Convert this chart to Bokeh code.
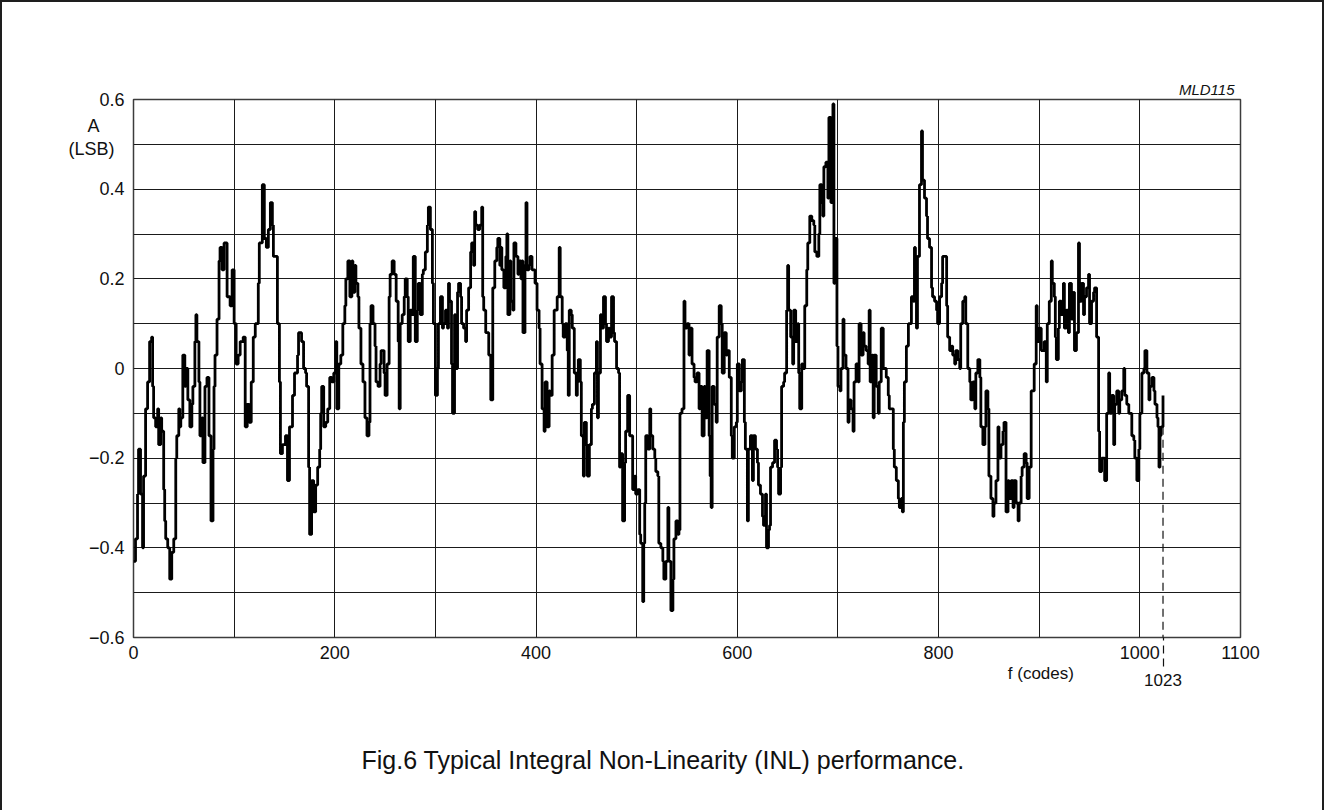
from bokeh.plotting import figure
from bokeh.models import Range1d, FixedTicker, CustomJSTickFormatter, LinearAxis, Title
from bokeh.embed import file_html
from bokeh.resources import INLINE

# ---- data (code, INL in LSB), step curve ----
codes = [
    0, 2, 4, 5, 7, 9, 10, 12, 14, 16,
    18, 19, 20, 22, 24, 25, 27, 28, 30, 31,
    32, 34, 36, 38, 40, 42, 43, 45, 46, 47,
    49, 51, 52, 54, 56, 58, 59, 61, 62, 63,
    65, 66, 68, 69, 71, 73, 75, 77, 79, 80,
    81, 83, 85, 86, 88, 90, 93, 96, 98, 100,
    102, 104, 106, 109, 111, 113, 115, 117, 119, 121,
    124, 125, 128, 130, 132, 134, 136, 138, 139, 143,
    145,
    146, 148, 151, 153, 155, 158, 160, 163, 164, 167,
    169, 171, 172, 174, 175, 177, 179, 181, 183, 185,
    186, 187, 189, 191, 193, 195, 197, 199, 201, 202,
    204, 206, 208, 210, 211, 213, 215, 217, 218, 220,
    221, 223, 224, 226, 228, 230, 232, 234, 235, 236,
    238, 240, 241, 243, 245, 246, 249, 250, 252, 254,
    255, 257, 259, 261, 263, 264, 265, 267, 269, 270,
    272, 273, 275, 277, 278, 280, 282, 283, 285, 287,
    288, 290, 292, 293, 295, 297, 298,
    300, 302, 303, 305, 307, 308, 310, 312, 313, 314,
    316, 317, 319, 320, 322, 323, 325, 326, 328, 330,
    331, 333, 335, 336, 338, 339, 340, 342, 344, 346,
    347, 348, 350, 353, 355, 357, 359, 361, 362, 364,
    365, 366, 368, 370, 371, 372, 374, 375, 377, 378,
    380, 382, 383, 385, 386, 387, 389, 390, 391, 393,
    394, 396, 398, 399, 401, 403, 404, 406, 408, 409,
    411, 413, 414, 416, 418, 419, 421, 423, 424, 426,
    427, 429, 431, 432, 433, 435, 436, 438, 440, 441,
    442, 444, 445, 447, 448, 450, 451, 453,
    455, 456, 458, 460, 461, 462, 464, 465, 467, 469,
    470, 472, 473, 475, 477, 478, 480, 482, 483, 484,
    486, 488, 489, 491, 493, 494, 496, 498, 499, 501,
    503, 504, 506, 507, 508, 509, 511, 513, 514, 516,
    518, 519, 521, 522, 524, 526, 527, 529, 531, 532,
    534, 536, 537, 539, 541, 542, 543, 545, 547, 548,
    550, 552, 553, 555, 557, 558, 560, 562, 563, 565,
    567, 568, 570, 572, 573, 574, 575, 577, 579, 580,
    582, 584, 585, 587, 589, 590, 592, 594, 595, 597,
    599, 600, 602, 604, 605, 607,
    608, 610, 611, 613, 615, 616, 618, 620, 621, 623,
    625, 626, 628, 629, 631, 632, 633, 635, 637, 639,
    640, 641, 643, 644, 646, 647, 649, 650, 651, 653,
    655, 656, 658, 660, 661, 662, 664, 665, 667, 669,
    670, 672, 674, 676, 677, 679, 681, 682, 684, 685,
    686, 688, 690, 691, 693, 694, 695, 696, 697, 699,
    700, 702, 703, 705, 706, 708, 710, 711, 713, 715,
    716, 718, 720, 721, 723, 725, 726, 728, 730, 731,
    732, 734, 735, 736, 738, 740, 741, 743, 745, 748,
    750, 751, 753, 755, 756, 758, 760, 761,
    763, 764, 765, 766, 768, 770, 773, 775, 776, 777,
    778, 779, 781, 783, 784, 786, 788, 789, 791, 793,
    794, 796, 798, 799, 801, 803, 804, 808, 809, 811,
    813, 814, 816, 817, 819, 821, 822, 824, 826, 827,
    829, 831, 832, 834, 836, 837, 839, 841, 842, 844,
    846, 847, 849, 850, 852, 854, 855, 857, 859, 860,
    862, 864, 865, 867, 869, 870, 872, 874, 875, 877,
    879, 880, 882, 883, 885, 887, 888, 890, 892, 895,
    897, 898, 900, 902, 905, 907, 908, 910, 912, 913,
    915, 916, 917,
    919, 920, 922, 924, 925, 927, 929, 930, 932, 934,
    935, 937, 939, 940, 942, 944, 945, 947, 949, 950,
    952, 954, 955, 957, 959, 960, 962, 964, 965, 967,
    969, 970, 972, 974, 975, 977, 979, 980, 982, 984,
    985, 987, 989, 990, 992, 994, 995, 997, 999, 1000,
    1002, 1004, 1005, 1007, 1009, 1010, 1012, 1014, 1015, 1017,
    1018, 1019, 1020, 1021, 1023,
]

inl = [
    -0.43, -0.38, -0.28, -0.18, -0.28, -0.40, -0.24, -0.09, -0.03, 0.06,
    0.07, -0.04, -0.11, -0.13, -0.09, -0.17, -0.11, -0.14, -0.27, -0.34,
    -0.38, -0.40, -0.47, -0.41, -0.38, -0.20, -0.15, -0.09, -0.13, -0.11,
    0.03, -0.04, 0.00, -0.07, -0.13, -0.08, -0.04, 0.06, 0.12, 0.06,
    -0.03, -0.15, -0.11, -0.21, -0.04, -0.02, -0.15, -0.34, -0.18, -0.04,
    0.03, 0.11, 0.24, 0.27, 0.22, 0.28, 0.16, 0.14, 0.22, 0.10,
    0.01, 0.03, 0.06, 0.07, -0.13, -0.08, -0.12, -0.03, 0.07, 0.10,
    0.19, 0.28, 0.41, 0.29, 0.27, 0.31, 0.37, 0.32, 0.25, 0.10,
    -0.03,
    -0.19, -0.17, -0.15, -0.25, -0.13, -0.06, -0.01, 0.03, 0.08, 0.06,
    0.00, -0.01, -0.04, -0.22, -0.37, -0.25, -0.32, -0.26, -0.22, -0.18,
    -0.10, -0.04, -0.13, -0.12, -0.09, -0.02, -0.03, -0.01, 0.06, -0.09,
    0.01, 0.03, 0.10, 0.14, 0.20, 0.24, 0.16, 0.24, 0.17, 0.23,
    0.19, 0.16, 0.09, 0.01, -0.03, -0.11, -0.15, -0.12, 0.10, 0.14,
    0.10, 0.05, -0.03, -0.04, 0.01, 0.04, -0.01, -0.06, 0.01, 0.16,
    0.21, 0.24, 0.21, 0.15, 0.06, -0.09, 0.10, 0.12, 0.16, 0.20,
    0.16, 0.06, 0.13, 0.12, 0.25, 0.06, 0.13, 0.19, 0.12, 0.21,
    0.22, 0.26, 0.32, 0.36, 0.31, 0.19, 0.10,
    -0.06, 0.00, 0.10, 0.16, 0.09, 0.10, 0.13, 0.09, 0.19, 0.15,
    0.01, -0.10, 0.12, 0.00, 0.17, 0.19, 0.16, 0.10, 0.09, 0.06,
    0.13, 0.18, 0.26, 0.28, 0.23, 0.35, 0.32, 0.31, 0.32, 0.36,
    0.16, 0.13, 0.08, 0.03, -0.07, 0.18, 0.24, 0.27, 0.29, 0.23,
    0.27, 0.22, 0.18, 0.25, 0.30, 0.12, 0.24, 0.15, 0.13, 0.28,
    0.25, 0.21, 0.24, 0.20, 0.24, 0.08, 0.23, 0.37, 0.22, 0.23,
    0.25, 0.22, 0.22, 0.19, 0.13, 0.09, 0.01, -0.09, -0.14, -0.03,
    -0.13, -0.05, -0.06, 0.03, 0.13, 0.13, 0.16, 0.27, 0.16, 0.10,
    0.07, 0.10, 0.04, -0.06, 0.13, 0.12, 0.09, -0.01, -0.06, -0.03,
    0.02, -0.03, -0.15, -0.24, -0.12, -0.17, -0.24, -0.17,
    -0.09, -0.08, -0.01, 0.06, -0.11, -0.01, 0.12, 0.09, 0.16, 0.10,
    0.06, 0.09, 0.07, 0.16, 0.08, 0.06, 0.00, -0.01, -0.22, -0.19,
    -0.34, -0.21, -0.14, -0.06, -0.15, -0.15, -0.27, -0.24, -0.28, -0.27,
    -0.37, -0.39, -0.52, -0.39, -0.30, -0.15, -0.18, -0.09, -0.15, -0.18,
    -0.20, -0.23, -0.24, -0.39, -0.40, -0.43, -0.47, -0.43, -0.31, -0.43,
    -0.54, -0.47, -0.38, -0.34, -0.37, -0.36, -0.10, -0.09, 0.15, 0.09,
    0.10, 0.03, 0.09, 0.01, -0.02, -0.03, -0.01, -0.09, -0.04, -0.15,
    -0.04, -0.11, 0.04, -0.15, -0.24, -0.31, -0.04, -0.08, -0.12, 0.07,
    0.14, 0.10, -0.01, 0.08, 0.03, 0.04, -0.02, -0.15, -0.20, -0.13,
    -0.12, 0.01, -0.05, -0.03, 0.02, -0.12,
    -0.18, -0.34, -0.18, -0.15, -0.25, -0.15, -0.18, -0.21, -0.26, -0.28,
    -0.33, -0.35, -0.28, -0.40, -0.36, -0.35, -0.22, -0.21, -0.16, -0.18,
    -0.22, -0.28, -0.22, -0.04, -0.03, -0.01, 0.13, 0.23, 0.13, 0.07,
    0.01, 0.13, 0.06, 0.10, -0.01, -0.09, 0.01, 0.00, 0.14, 0.22,
    0.28, 0.34, 0.33, 0.32, 0.26, 0.25, 0.30, 0.41, 0.37, 0.34,
    0.45, 0.46, 0.38, 0.56, 0.37, 0.40, 0.59, 0.19, 0.29, 0.05,
    -0.04, -0.05, 0.00, 0.11, 0.03, 0.00, -0.12, -0.07, -0.09, -0.14,
    -0.03, 0.01, -0.03, 0.10, 0.03, 0.08, 0.05, 0.04, 0.01, 0.13,
    -0.03, 0.03, -0.11, 0.03, -0.04, -0.10, -0.03, 0.09, 0.00, -0.02,
    -0.06, -0.09, -0.09, -0.18, -0.22, -0.25, -0.29, -0.31,
    -0.29, -0.32, -0.12, -0.03, 0.05, 0.10, 0.16, 0.15, 0.27, 0.19,
    0.09, 0.25, 0.41, 0.53, 0.42, 0.38, 0.34, 0.29, 0.27, 0.18,
    0.16, 0.15, 0.13, 0.10, 0.16, 0.19, 0.25, 0.14, 0.07, 0.04,
    0.05, 0.03, 0.01, 0.04, 0.02, 0.00, 0.10, 0.15, 0.16, 0.10,
    0.00, -0.03, -0.07, -0.03, -0.09, -0.01, 0.02, -0.02, -0.13, -0.17,
    -0.13, -0.05, -0.09, -0.24, -0.29, -0.33, -0.30, -0.25, -0.13, -0.20,
    -0.17, -0.14, -0.12, -0.32, -0.25, -0.29, -0.25, -0.31, -0.25, -0.30,
    -0.34, -0.30, -0.24, -0.22, -0.19, -0.21, -0.29, -0.22, -0.05, 0.01,
    0.14, 0.06, 0.09, 0.04, 0.06, -0.03, 0.10, 0.15, 0.24, 0.19,
    0.16, 0.07, 0.02,
    0.09, 0.15, 0.12, 0.19, 0.09, 0.13, 0.08, 0.19, 0.11, 0.17,
    0.04, 0.08, 0.28, 0.15, 0.19, 0.12, 0.16, 0.18, 0.21, 0.10,
    0.15, 0.17, 0.18, 0.07, -0.14, -0.23, -0.20, -0.20, -0.25, -0.10,
    -0.01, -0.10, -0.06, -0.17, -0.08, -0.05, -0.10, -0.07, -0.05, 0.00,
    -0.06, -0.08, -0.10, -0.10, -0.15, -0.16, -0.20, -0.25, -0.18, -0.10,
    -0.01, 0.00, 0.04, -0.01, -0.07, -0.04, -0.02, -0.05, -0.08, -0.11,
    -0.13, -0.22, -0.15, -0.13, -0.06,
]

x_major_ticks = [0, 200, 400, 600, 800, 1000, 1100]
x_grid_minor = [100, 300, 500, 700, 900]
y_major_ticks = [-0.6, -0.4, -0.2, 0.0, 0.2, 0.4, 0.6]
y_grid_minor = [-0.5, -0.3, -0.1, 0.1, 0.3, 0.5]
end_marker = [1023]

last_code_label = "1023"
figure_code = "MLD115"
caption_text = "Fig.6  Typical Integral Non-Linearity (INL) performance."
y_label_top = "A"
y_label_unit = "(LSB)"
x_label_text = "f  (codes)"

# where the quantity / unit texts sit along the y axis, and the x label along the x axis
y_label_pos = [0.54, 0.49]
x_label_pos = 904

FONT = "Liberation Sans"
INK = "#111111"
NBSP = "\u00a0"

p = figure(
    frame_width=1107, frame_height=538,
    min_border_left=131, min_border_right=82,
    min_border_top=97, min_border_bottom=170,
    x_range=Range1d(0, 1100), y_range=Range1d(-0.6, 0.6),
    output_backend="svg", toolbar_location=None,
    background_fill_color="white", border_fill_color="white",
)
p.styles = {"border": "2px solid #1e1e1e"}

p.outline_line_color = "#3c3c3c"
p.outline_line_width = 1.5

# figure code, top right above the frame
p.title.text = figure_code
p.title.align = "right"
p.title.offset = 6
p.title.standoff = 4
p.title.text_font = FONT
p.title.text_font_size = "15px"
p.title.text_font_style = "italic"
p.title.text_color = INK

# main x axis; one dashed minor tick marks the last code below the axis
p.xaxis.ticker = FixedTicker(ticks=x_major_ticks, minor_ticks=end_marker)
# y axis also carries the quantity "A" and unit "(LSB)" near its top
p.yaxis.ticker = FixedTicker(ticks=y_major_ticks + y_label_pos, minor_ticks=[])
p.yaxis.formatter = CustomJSTickFormatter(
    args=dict(lpos=y_label_pos,
              labs=[y_label_top + NBSP * 5, y_label_unit + NBSP * 2]),
    code="""
    for (let i = 0; i < lpos.length; i++) {
        if (Math.abs(tick - lpos[i]) < 1e-6) { return labs[i]; }
    }
    if (Math.abs(tick) < 1e-9) { return "0"; }
    const s = Math.abs(tick).toFixed(1);
    return tick < 0 ? "\u2212" + s : s;
""")

for ax in (p.xaxis[0], p.yaxis[0]):
    ax.axis_line_color = None
    ax.major_tick_line_color = None
    ax.major_tick_out = 0
    ax.major_tick_in = 0
    ax.major_label_text_font = FONT
    ax.major_label_text_font_size = "18px"
    ax.major_label_text_color = INK
p.yaxis.minor_tick_line_color = None
p.yaxis.major_label_standoff = 9
p.xaxis.minor_tick_line_color = INK
p.xaxis.minor_tick_line_width = 1.2
p.xaxis.minor_tick_line_dash = "8 5"
p.xaxis.minor_tick_in = 0
p.xaxis.minor_tick_out = 29
p.xaxis.major_label_standoff = -21

# second row below the axis: x quantity and (slightly lower) the last code value
ax2 = LinearAxis(
    ticker=FixedTicker(ticks=[x_label_pos] + end_marker, minor_ticks=[]),
    major_label_overrides={x_label_pos: x_label_text, end_marker[0]: "\n" + last_code_label},
    axis_line_color=None, major_tick_line_color=None, minor_tick_line_color=None,
    major_tick_out=0, major_tick_in=0, minor_tick_out=0, minor_tick_in=0,
    major_label_standoff=2,
    major_label_text_font=FONT, major_label_text_font_size="17px",
    major_label_text_line_height=0.42,
    major_label_text_color=INK,
)
p.add_layout(ax2, "below")

# caption under the chart
p.add_layout(Title(text=caption_text, align="left", offset=228, standoff=100,
                   text_font=FONT, text_font_size="25px", text_font_style="normal",
                   text_color=INK), "below")

# grid lines every 100 codes and every 0.1 LSB
for g in (p.xgrid[0], p.ygrid[0]):
    g.grid_line_color = "#1a1a1a"
    g.grid_line_width = 1
    g.grid_line_alpha = 1
    g.minor_grid_line_color = "#1a1a1a"
    g.minor_grid_line_width = 1
p.xgrid.ticker = FixedTicker(ticks=x_major_ticks, minor_ticks=x_grid_minor)
p.ygrid.ticker = FixedTicker(ticks=y_major_ticks, minor_ticks=y_grid_minor)

p.step(x=codes, y=inl, mode="after", line_color="black", line_width=2.8)

# dashed marker from the last INL value down to the axis
p.segment(x0=[codes[-1]], y0=[inl[-2]], x1=[codes[-1]], y1=[y_major_ticks[0]],
          line_color=INK, line_width=1.2, line_dash="8 5")

open("out.html", "w").write(file_html(p, INLINE))
